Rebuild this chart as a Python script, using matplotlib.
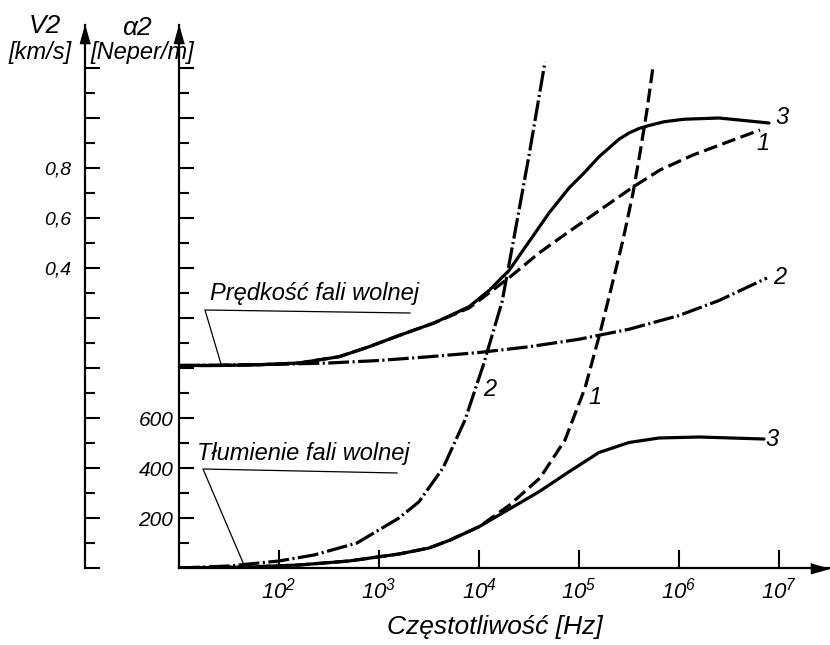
import matplotlib
matplotlib.use("Agg")
import matplotlib.pyplot as plt
from matplotlib.ticker import FixedLocator, FuncFormatter, NullLocator
from matplotlib.transforms import offset_copy
import numpy as np

###================ Data =====================================###

# frequency is given as log10(f / Hz)
# velocity of the slow wave, V2 [km/s]
logf_v1 = [1.0, 1.4, 1.8, 2.2, 2.6, 2.9, 3.2, 3.55, 3.9, 4.1, 4.31, 4.6, 4.88, 5.21, 5.54, 5.81, 6.14, 6.54, 6.81]
v1 = [0.01, 0.01, 0.013, 0.02, 0.045, 0.085, 0.13, 0.18, 0.24, 0.3, 0.364, 0.46, 0.54, 0.632, 0.724, 0.792, 0.852, 0.912, 0.952]

logf_v2 = [1.0, 1.5, 2.0, 2.5, 3.0, 3.5, 4.0, 4.5, 5.0, 5.5, 6.0, 6.4, 6.88]
v2 = [0.01, 0.012, 0.015, 0.02, 0.03, 0.045, 0.062, 0.085, 0.115, 0.155, 0.21, 0.27, 0.36]

logf_v3 = [1.0, 1.4, 1.8, 2.2, 2.6, 2.9, 3.2, 3.55, 3.9, 4.1, 4.3, 4.5, 4.7, 4.9, 5.05, 5.2, 5.3, 5.4, 5.5, 5.6, 5.7, 5.85, 6.05, 6.4, 6.9]
v3 = [0.01, 0.01, 0.013, 0.02, 0.045, 0.085, 0.13, 0.18, 0.245, 0.31, 0.39, 0.505, 0.62, 0.72, 0.78, 0.845, 0.88, 0.915, 0.94, 0.958, 0.97, 0.985, 0.995, 1.0, 0.98]

# attenuation of the slow wave, alpha2 [Neper/m]
logf_a1 = [1.0, 1.7, 2.2, 2.7, 3.2, 3.5, 3.7, 4.0, 4.3, 4.61, 4.86, 5.06, 5.21, 5.31, 5.44, 5.54, 5.61, 5.68, 5.74]
a1 = [0, 4, 12, 28, 56, 80, 110, 165, 250, 360, 512, 720, 940, 1100, 1312, 1500, 1660, 1832, 2004]

logf_a2 = [1.0, 1.5, 2.0, 2.35, 2.78, 3.2, 3.4, 3.64, 3.86, 4.04, 4.23, 4.34, 4.5, 4.66]
a2 = [0, 8, 28, 52, 100, 200, 265, 400, 592, 808, 1064, 1300, 1650, 2024]

logf_a3 = [1.0, 1.7, 2.2, 2.7, 3.2, 3.5, 3.7, 4.0, 4.3, 4.6, 4.9, 5.2, 5.5, 5.8, 6.2, 6.85]
a3 = [0, 4, 12, 28, 56, 80, 110, 165, 235, 305, 385, 462, 502, 520, 524, 516]

x_ticks_exp = [2, 3, 4, 5, 6, 7]
alpha_labelled = [200, 400, 600]
v_labelled = [0.4, 0.6, 0.8]

###================ Style =================###

plt.rcParams['font.family'] = ['Liberation Sans', 'DejaVu Sans']
plt.rcParams['font.style'] = 'italic'
plt.rcParams['mathtext.fontset'] = 'custom'
plt.rcParams['mathtext.rm'] = 'Liberation Sans:italic'
plt.rcParams['mathtext.it'] = 'Liberation Sans:italic'
plt.rcParams['lines.scale_dashes'] = False

W, H, DPI = 830, 645, 100
fig = plt.figure(figsize=(W / DPI, H / DPI), dpi=DPI)

# axes box in pixels: alpha axis at x=179, base line at y=568, top at y=25
ax = fig.add_axes([179 / W, (H - 568) / H, (829 - 179) / W, (568 - 25) / H])
ax.set_xscale('log')
ax.set_xlim(10 ** 1, 10 ** 7.5)
ax.set_ylim(0, 2172)

ax2 = ax.twinx()
ax2.set_ylim(-0.8, 1.372)

for s in ['top', 'right']:
    ax.spines[s].set_visible(False)
for s in ['top', 'right', 'bottom']:
    ax2.spines[s].set_visible(False)
ax2.spines['left'].set_visible(True)
ax2.spines['left'].set_position(('outward', 94 * 72 / DPI))
for sp in [ax.spines['left'], ax.spines['bottom'], ax2.spines['left']]:
    sp.set_linewidth(1.6)

# x axis ticks
ax.xaxis.set_major_locator(FixedLocator([10.0 ** e for e in x_ticks_exp]))
ax.xaxis.set_minor_locator(NullLocator())
ax.xaxis.set_major_formatter(FuncFormatter(lambda v, p: f"$10^{{{int(round(np.log10(v)))}}}$"))
ax.tick_params(axis='x', direction='in', length=13, width=1.5, labelsize=16, pad=7)

# alpha axis ticks
ax.yaxis.set_major_locator(FixedLocator(np.arange(200, 2001, 200)))
ax.yaxis.set_minor_locator(FixedLocator(np.arange(100, 2001, 200)))
ax.yaxis.set_major_formatter(FuncFormatter(lambda v, p: f"{int(v)}" if int(round(v)) in alpha_labelled else ""))
ax.tick_params(axis='y', which='major', direction='in', length=11, width=1.5, labelsize=15, pad=4)
ax.tick_params(axis='y', which='minor', direction='in', length=7, width=1.5)

# velocity axis ticks
ax2.yaxis.tick_left()
ax2.yaxis.set_major_locator(FixedLocator(np.round(np.arange(-0.8, 1.21, 0.2), 1)))
ax2.yaxis.set_minor_locator(FixedLocator(np.round(np.arange(-0.7, 1.11, 0.2), 1)))
ax2.yaxis.set_major_formatter(FuncFormatter(
    lambda v, p: f"{v:.1f}".replace('.', ',') if round(v, 1) in v_labelled else ""))
ax2.tick_params(axis='y', which='major', direction='in', length=11, width=1.5, labelsize=14, pad=10)
ax2.tick_params(axis='y', which='minor', direction='in', length=7, width=1.5)

# arrow heads on the axes
up = [(0, 0), (-0.28, -1), (0.28, -1)]
right = [(0, 0), (-1, -0.28), (-1, 0.28)]
ax.plot(0, 1, marker=up, ms=26, color='k', transform=ax.transAxes, clip_on=False)
ax.plot(1, 0, marker=right, ms=26, color='k', transform=ax.transAxes, clip_on=False)
ax2.plot(0, 1, marker=up, ms=26, color='k', clip_on=False,
         transform=offset_copy(ax2.transAxes, fig=fig, x=-94, y=0, units='dots'))

###================ Curves =================###

f = lambda lf: 10.0 ** np.asarray(lf)
solid = dict(color='k', lw=2.3, solid_capstyle='round')
dashed = dict(color='k', lw=2.3, dashes=(10, 4))
dashdot = dict(color='k', lw=2.3, dashes=(15, 2.5, 1.5, 2.5))

ax2.plot(f(logf_v3), v3, **solid)
ax2.plot(f(logf_v1), v1, **dashed)
ax2.plot(f(logf_v2), v2, **dashdot)

ax.plot(f(logf_a3), a3, **solid)
ax.plot(f(logf_a1), a1, **dashed)
ax.plot(f(logf_a2), a2, **dashdot)

# curve numbers
ax2.text(10 ** 7.03, 1.0, "3", fontsize=17, ha='center', va='center')
ax2.text(10 ** 6.84, 0.9, "1", fontsize=17, ha='center', va='center')
ax2.text(10 ** 7.01, 0.364, "2", fontsize=17, ha='center', va='center')
ax.text(10 ** 4.11, 712, "2", fontsize=17, ha='center', va='center')
ax.text(10 ** 5.16, 680, "1", fontsize=17, ha='center', va='center')
ax.text(10 ** 6.93, 512, "3", fontsize=17, ha='center', va='center')

# labels with leader lines
ax2.text(10 ** 1.31, 0.272, "Prędkość fali wolnej", fontsize=17, ha='left', va='baseline')
ax2.plot(f([3.31, 1.26, 1.42]), [0.22, 0.232, 0.016], color='k', lw=0.9)
ax.text(10 ** 1.18, 432, "Tłumienie fali wolnej", fontsize=17, ha='left', va='baseline')
ax.plot(f([3.18, 1.24, 1.65]), [380, 396, 12], color='k', lw=0.9)

# axis titles
fig.text(45 / W, 1 - 26 / H, "V2", fontsize=19, ha='center', va='center')
fig.text(40 / W, 1 - 52 / H, "[km/s]", fontsize=17, ha='center', va='center')
fig.text(137 / W, 1 - 28 / H, "α2", fontsize=19, ha='center', va='center')
fig.text(142 / W, 1 - 53 / H, "[Neper/m]", fontsize=17, ha='center', va='center')
fig.text(495 / W, 1 - 627 / H, "Częstotliwość [Hz]", fontsize=19, ha='center', va='center')

fig.savefig("out.png", dpi=DPI)
